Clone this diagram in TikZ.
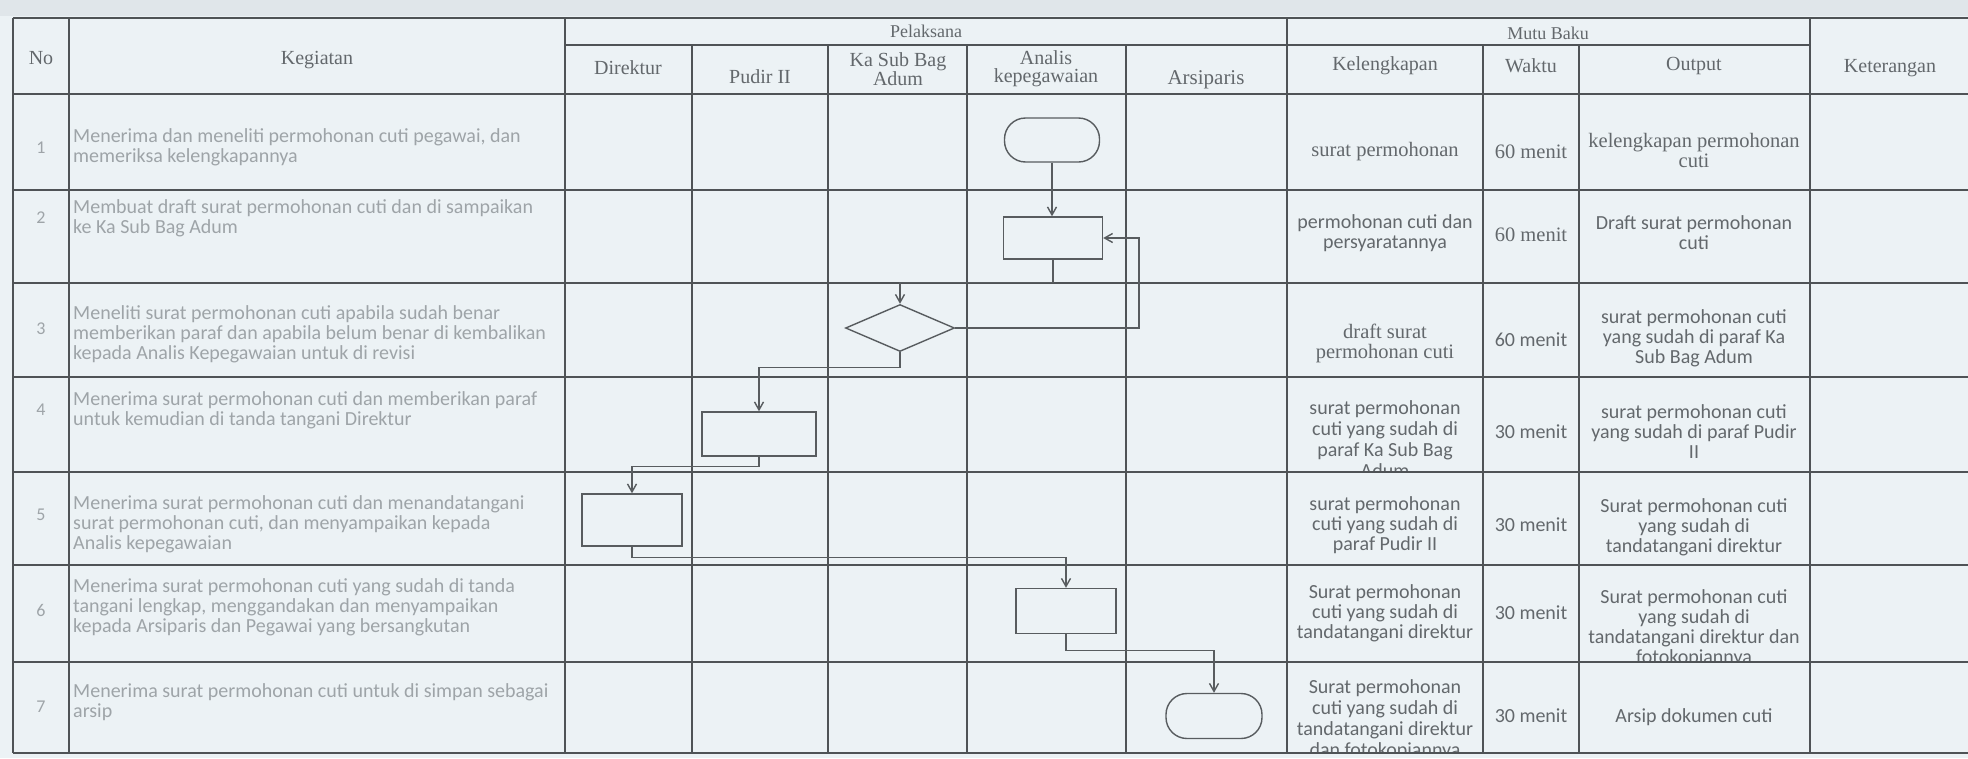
\documentclass[tikz,border=0pt]{standalone}
\usepackage{fontspec}
\setmainfont{Liberation Serif}
\newfontfamily\carl{Carlito}
\usetikzlibrary{arrows.meta,shapes.geometric}
\definecolor{paper}{HTML}{ECF2F5}
\definecolor{papertop}{HTML}{E0E6EA}
\definecolor{rule}{HTML}{4F5356}
\definecolor{ink}{HTML}{63686C}
\definecolor{faint}{HTML}{9EA4A8}
\definecolor{flow}{HTML}{585C5F}
\begin{document}
\begin{tikzpicture}[x=1pt,y=-1pt,
 hline/.style={draw=rule,line width=1.6pt},
 vline/.style={draw=rule,line width=1.2pt},
 hdr/.style={font=\fontsize{20}{18}\selectfont, text=ink, align=center, inner sep=0pt},
 keg/.style={font=\carl\fontsize{20}{20}\selectfont, text=faint, align=left, anchor=west, inner sep=0pt},
 num/.style={font=\carl\fontsize{18}{18}\selectfont, text=faint, inner sep=0pt},
 cs/.style={font=\carl\fontsize{20}{20}\selectfont, text=ink, align=center, inner sep=0pt},
 cr/.style={font=\fontsize{20.5}{20}\selectfont, text=ink, align=center, inner sep=0pt},
 box/.style={draw=flow, fill=paper, line width=1.4pt, minimum width=100pt, minimum height=44pt, inner sep=0pt},
 term/.style={draw=flow, fill=paper, line width=1.4pt, rounded corners=21pt, minimum width=95pt, minimum height=44pt, inner sep=0pt},
 dec/.style={draw=flow, fill=paper, line width=1.4pt, diamond, minimum width=109pt, minimum height=47pt, inner sep=0pt},
 flowline/.style={draw=flow, line width=1.4pt, -{Straight Barb[length=8pt,width=9pt]}}
]
\useasboundingbox (0,0) rectangle (1968,758);
\fill[paper] (0,0) rectangle (1968,758);
\fill[papertop] (0,0) rectangle (1968,16);

% ---------- header texts ----------
\node[hdr] (hNo) at (41,58) {No};
\node[hdr] (hKeg) at (317,60) {Kegiatan};
\node[hdr, font=\fontsize{18}{18}\selectfont] (hPel) at (926,31) {Pelaksana};
\node[hdr] (hDir) at (628,68) {Direktur};
\node[hdr] (hPud) at (760,77) {Pudir II};
\node[hdr] (hKa) at (898,69) {Ka Sub Bag\\Adum};
\node[hdr] (hAn) at (1046,69) {Analis\\kepegawaian};
\node[hdr, font=\fontsize{21}{18}\selectfont] (hArs) at (1206,80) {Arsiparis};
\node[hdr, font=\fontsize{18}{18}\selectfont] (hMutu) at (1548,33) {Mutu Baku};
\node[hdr] (hKel) at (1385,66) {Kelengkapan};
\node[hdr] (hWak) at (1531,66) {Waktu};
\node[hdr] (hOut) at (1694,66) {Output};
\node[hdr] (hKet) at (1890,68) {Keterangan};

% ---------- numbers ----------
\node[num] (n1) at (41,148) {1};
\node[num] (n2) at (41,218) {2};
\node[num] (n3) at (41,329) {3};
\node[num] (n4) at (41,410) {4};
\node[num] (n5) at (41,515) {5};
\node[num] (n6) at (41,610) {6};
\node[num] (n7) at (41,707) {7};

% ---------- kegiatan ----------
\node[keg] (k1) at (73,147) {Menerima dan meneliti permohonan cuti pegawai, dan\\memeriksa kelengkapannya};
\node[keg] (k2) at (73,218) {Membuat draft surat permohonan cuti dan di sampaikan\\ke Ka Sub Bag Adum};
\node[keg] (k3) at (73,334) {Meneliti surat permohonan cuti apabila sudah benar\\memberikan paraf dan apabila belum benar di kembalikan\\kepada Analis Kepegawaian untuk di revisi};
\node[keg] (k4) at (73,410) {Menerima surat permohonan cuti dan memberikan paraf\\untuk kemudian di tanda tangani Direktur};
\node[keg] (k5) at (73,524) {Menerima surat permohonan cuti dan menandatangani\\surat permohonan cuti, dan menyampaikan kepada\\Analis kepegawaian};
\node[keg] (k6) at (73,607) {Menerima surat permohonan cuti yang sudah di tanda\\tangani lengkap, menggandakan dan menyampaikan\\kepada Arsiparis dan Pegawai yang bersangkutan};
\node[keg] (k7) at (73,702) {Menerima surat permohonan cuti untuk di simpan sebagai\\arsip};

% ---------- mutu baku ----------
\node[cr] (kel1) at (1385,152) {surat permohonan};
\node[cr] (w1) at (1531,152) {60 menit};
\node[cr] (o1) at (1694,150) {kelengkapan permohonan\\cuti};

\node[cs] (kel2) at (1385,233) {permohonan cuti dan\\persyaratannya};
\node[cr] (w2) at (1531,235) {60 menit};
\node[cs] (o2) at (1694,233) {Draft surat permohonan\\cuti};

\node[cr] (kel3) at (1385,343) {draft surat\\permohonan cuti};
\node[cs] (w3) at (1531,340) {60 menit};
\node[cs] (o3) at (1694,338) {surat permohonan cuti\\yang sudah di paraf Ka\\Sub Bag Adum};

\begin{scope}
\clip (1287,377) rectangle (1483,472);
\node[cs, font=\carl\fontsize{20}{21}\selectfont] (kel4) at (1385,439) {surat permohonan\\cuti yang sudah di\\paraf Ka Sub Bag\\Adum};
\end{scope}
\node[cs] (w4) at (1531,432) {30 menit};
\node[cs] (o4) at (1694,432) {surat permohonan cuti\\yang sudah di paraf Pudir\\II};

\node[cs] (kel5) at (1385,525) {surat permohonan\\cuti yang sudah di\\paraf Pudir II};
\node[cs] (w5) at (1531,525) {30 menit};
\node[cs] (o5) at (1694,527) {Surat permohonan cuti\\yang sudah di\\tandatangani direktur};

\node[cs] (kel6) at (1385,613) {Surat permohonan\\cuti yang sudah di\\tandatangani direktur};
\node[cs] (w6) at (1531,613) {30 menit};
\begin{scope}
\clip (1579,565) rectangle (1810,662);
\node[cs] (o6) at (1694,628) {Surat permohonan cuti\\yang sudah di\\tandatangani direktur dan\\fotokopiannya};
\end{scope}

\begin{scope}
\clip (1287,662) rectangle (1483,753);
\node[cs, font=\carl\fontsize{20}{21}\selectfont] (kel7) at (1385,720) {Surat permohonan\\cuti yang sudah di\\tandatangani direktur\\dan fotokopiannya};
\end{scope}
\node[cs] (w7) at (1531,716) {30 menit};
\node[cs] (o7) at (1694,717) {Arsip dokumen cuti};

% ---------- table lines ----------
\foreach \yy in {18,94,190,283,377,472,565,662,753}
  \draw[hline] (13,\yy) -- (1968,\yy);
\draw[hline] (565,45) -- (1810,45);
\foreach \xx in {13,69,565,1287,1810}
  \draw[vline] (\xx,18) -- (\xx,753);
\foreach \xx in {692,828,967,1126,1483,1579}
  \draw[vline] (\xx,45) -- (\xx,753);

% ---------- flow shapes ----------
\node[term] (t1) at (1052,140) {};
\node[box, minimum width=99pt, minimum height=42pt] (r2) at (1053,238) {};
\node[dec] (d3) at (900,328) {};
\node[box, minimum width=114pt] (r4) at (759,434) {};
\node[box, minimum height=52pt] (r5) at (632,520) {};
\node[box, minimum height=45pt] (r6) at (1066,611) {};
\node[term, minimum width=96pt, minimum height=45pt] (t7) at (1214,716) {};

% ---------- connectors ----------
\coordinate (lp) at (1139,300);
\draw[flowline] (t1.south) -- (t1.south |- r2.north);
\draw[flowline] (r2.south) -- ++(0,23) -| (d3.north);
\draw[flowline] (d3.east) -- (d3.east -| lp) -- (lp |- r2.east) -- (r2.east);
\draw[flowline] (d3.south) -- ++(0,15) -| (r4.north);
\draw[flowline] (r4.south) -- ++(0,10) -| (r5.north);
\draw[flowline] (r5.south) -- ++(0,11) -| (r6.north);
\draw[flowline] (r6.south) -- ++(0,16) -| (t7.north);
\end{tikzpicture}
\end{document}
